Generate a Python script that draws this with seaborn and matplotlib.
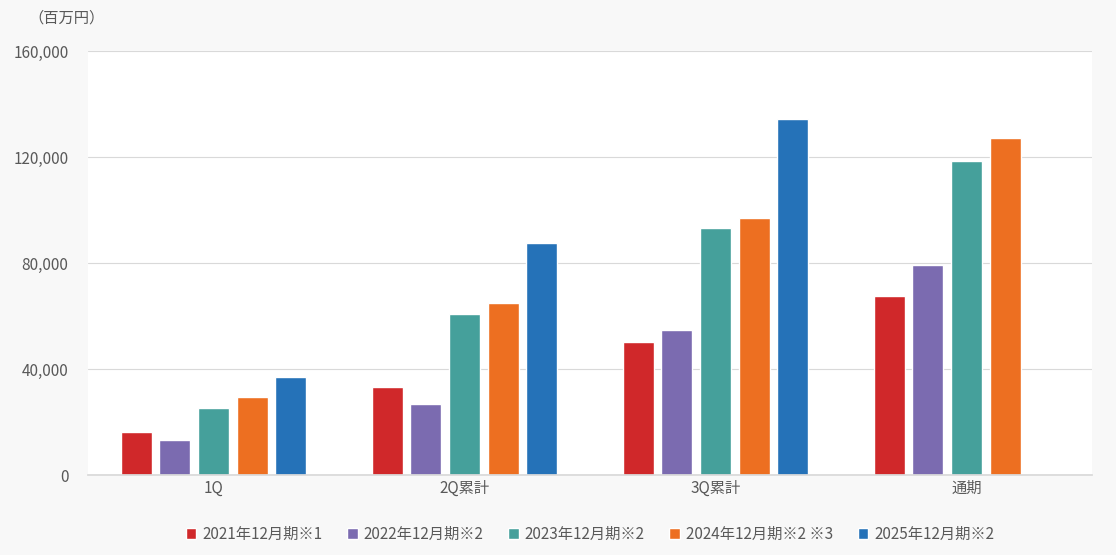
import matplotlib
matplotlib.use("Agg")
import matplotlib.pyplot as plt
import seaborn as sns
import pandas as pd
import numpy as np

categories = ["1Q", "2Q累計", "3Q累計", "通期"]
series = ["2021年12月期※1", "2022年12月期※2", "2023年12月期※2", "2024年12月期※2 ※3", "2025年12月期※2"]
v2021 = [16200, 33200, 50200, 67500]
v2022 = [13200, 26800, 54700, 79200]
v2023 = [25300, 60800, 93200, 118500]
v2024 = [29400, 64900, 97000, 127200]
v2025 = [37000, 87500, 134300, np.nan]
colors = ["#d0282a", "#7b6bb0", "#45a09b", "#ed6f21", "#2572b8"]

rows = []
for s, vals in zip(series, [v2021, v2022, v2023, v2024, v2025]):
    for c, v in zip(categories, vals):
        rows.append({"cat": c, "series": s, "value": v})
df = pd.DataFrame(rows)

sns.set_theme(style="white")
plt.rcParams['font.family'] = ['Noto Sans CJK JP', 'DejaVu Sans']

fig = plt.figure(figsize=(11.16, 5.55), dpi=100, facecolor="#f8f8f8")
ax = fig.add_axes([88/1116, 80/555, 1004/1116, 424/555])
ax.set_facecolor("white")
sns.barplot(data=df, x="cat", y="value", hue="series", palette=colors,
            width=0.77, gap=0.2, ax=ax, legend=True, saturation=1)
ax.set_ylim(0, 160000)
ax.set_yticks([0, 40000, 80000, 120000, 160000])
ax.set_yticklabels(["0", "40,000", "80,000", "120,000", "160,000"])
ax.yaxis.grid(True, color="#d9d9d9", linewidth=0.8)
ax.set_axisbelow(True)
for sp in ["top", "right", "left"]:
    ax.spines[sp].set_visible(False)
ax.spines["bottom"].set_color("#d9d9d9")
ax.set_xlabel("")
ax.set_ylabel("")
ax.tick_params(axis="both", colors="#595959", labelsize=11, length=0)
ax.tick_params(axis="y", pad=14)
fig.text(28/1116, 1-18/555, "（百万円）", fontsize=11, color="#595959", va="center")
h, l = ax.get_legend_handles_labels()
ax.legend(h, l, loc="center", bbox_to_anchor=(0.5/1, -0.14), ncol=5, frameon=False,
          fontsize=11, handlelength=0.7, handleheight=0.7, handletextpad=0.4,
          columnspacing=1.6, labelcolor="#595959")
fig.savefig("out.png", dpi=100, facecolor=fig.get_facecolor())
